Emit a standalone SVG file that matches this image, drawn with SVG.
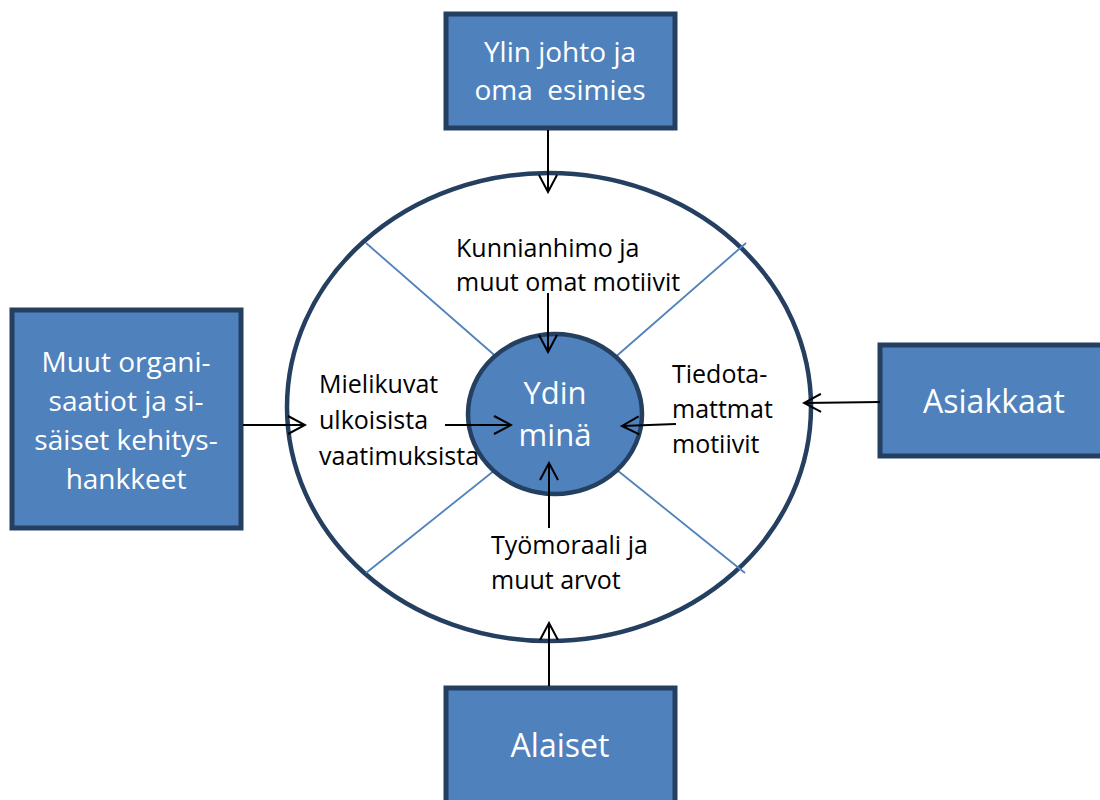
<svg xmlns="http://www.w3.org/2000/svg" width="1100" height="800" viewBox="0 0 1100 800">
  <style>
    .box { fill: #4F81BD; stroke: #243F60; stroke-width: 5; }
    .btxt { font-family: "Open Sans", "Liberation Sans", sans-serif; fill: #FFFFFF; text-anchor: middle; }
    .itxt { font-family: "Open Sans", "Liberation Sans", sans-serif; fill: #000000; font-size: 25px; }
    .div { stroke: #4F81BD; stroke-width: 1.8; }
    .arrow { stroke: #000000; stroke-width: 2; fill: none; marker-end: url(#arr); }
  </style>
  <defs>
    <marker id="arr" markerWidth="20" markerHeight="20" refX="18" refY="10" orient="auto" markerUnits="userSpaceOnUse">
      <path d="M1,1 L18,10 L1,19" fill="none" stroke="#000000" stroke-width="2"/>
    </marker>
  </defs>
  <rect width="1100" height="800" fill="#FFFFFF"/>

  <g id="outer-ring">
    <ellipse cx="549" cy="407" rx="262" ry="234" fill="#FFFFFF" stroke="#243F60" stroke-width="4.5"/>
    <line class="div" x1="366" y1="243" x2="500" y2="360"/>
    <line class="div" x1="746" y1="243" x2="612" y2="360"/>
    <line class="div" x1="366" y1="573" x2="500" y2="466"/>
    <line class="div" x1="745" y1="573" x2="612" y2="466"/>
  </g>

  <g id="core">
    <ellipse cx="555" cy="414" rx="87" ry="80" fill="#4F81BD" stroke="#243F60" stroke-width="4.5"/>
    <text class="btxt" font-size="31" x="555" y="404">Ydin</text>
    <text class="btxt" font-size="31" x="555" y="446">minä</text>
  </g>

  <g id="label-top">
    <text class="itxt" x="456" y="257">Kunnianhimo ja</text>
    <text class="itxt" x="456" y="291">muut omat motiivit</text>
  </g>
  <g id="label-left">
    <text class="itxt" x="319" y="393">Mielikuvat</text>
    <text class="itxt" x="319" y="429">ulkoisista</text>
    <text class="itxt" x="319" y="465">vaatimuksista</text>
  </g>
  <g id="label-right">
    <text class="itxt" x="672" y="383">Tiedota-</text>
    <text class="itxt" x="672" y="418">mattmat</text>
    <text class="itxt" x="672" y="453">motiivit</text>
  </g>
  <g id="label-bottom">
    <text class="itxt" x="491" y="554">Työmoraali ja</text>
    <text class="itxt" x="491" y="589">muut arvot</text>
  </g>

  <g id="box-top">
    <rect class="box" x="446" y="14" width="229" height="114"/>
    <text class="btxt" font-size="28" x="560" y="62">Ylin johto ja</text>
    <text class="btxt" font-size="28" x="560" y="100" xml:space="preserve">oma  esimies</text>
  </g>
  <g id="box-left">
    <rect class="box" x="12" y="310" width="229" height="218"/>
    <text class="btxt" font-size="28" x="126" y="372">Muut organi-</text>
    <text class="btxt" font-size="28" x="126" y="411">saatiot ja si-</text>
    <text class="btxt" font-size="28" x="126" y="450">säiset kehitys-</text>
    <text class="btxt" font-size="28" x="126" y="489">hankkeet</text>
  </g>
  <g id="box-right">
    <rect class="box" x="880" y="345" width="230" height="111"/>
    <text class="btxt" font-size="32" x="994" y="413">Asiakkaat</text>
  </g>
  <g id="box-bottom">
    <rect class="box" x="446" y="688" width="229" height="120"/>
    <text class="btxt" font-size="32" x="560" y="757">Alaiset</text>
  </g>

  <g id="connectors">
    <line class="arrow" x1="548" y1="130" x2="548" y2="192"/>
    <line class="arrow" x1="548" y1="293" x2="548" y2="352"/>
    <line class="arrow" x1="243" y1="425" x2="305" y2="425"/>
    <line class="arrow" x1="445" y1="425" x2="511" y2="425"/>
    <line class="arrow" x1="880" y1="402" x2="804" y2="403"/>
    <line class="arrow" x1="676" y1="424" x2="622" y2="426"/>
    <line class="arrow" x1="549" y1="528" x2="549" y2="463"/>
    <line class="arrow" x1="549" y1="686" x2="549" y2="623"/>
  </g>
</svg>
